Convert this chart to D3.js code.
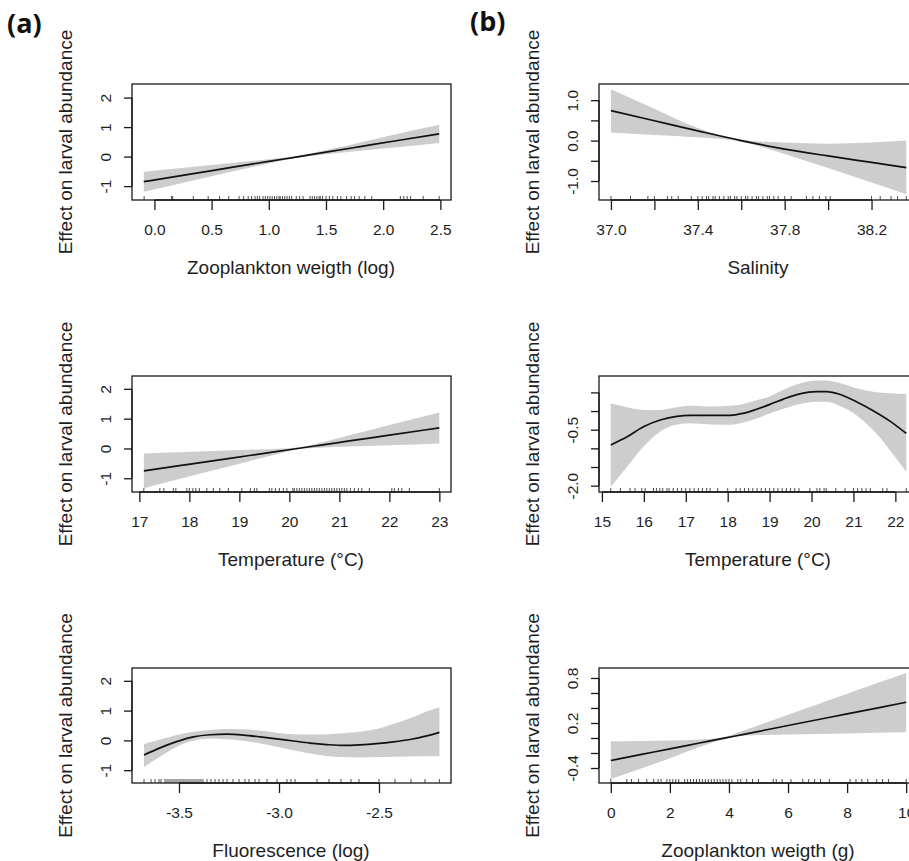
<!DOCTYPE html>
<html>
<head>
<meta charset="utf-8">
<script src="https://cdn.jsdelivr.net/npm/d3@7"></script>
<style>
  html, body { margin: 0; padding: 0; background: #fff; }
  svg { display: block; }
</style>
</head>
<body>
<div id="chart"></div>
<script>
// ---------------- DATA ----------------
const yTitle = "Effect on larval abundance";

// (a) top: Zooplankton weigth (log)
const a1X     = [-0.093, 0.3, 0.7, 1.0, 1.25, 1.5, 1.8, 2.1, 2.49];
const a1Fit   = [-0.85, -0.60, -0.35, -0.16, -0.01, 0.15, 0.34, 0.53, 0.77];
const a1Upper = [-0.51, -0.36, -0.21, -0.09, 0.02, 0.22, 0.48, 0.75, 1.08];
const a1Lower = [-1.19, -0.84, -0.49, -0.23, -0.04, 0.08, 0.20, 0.31, 0.46];
const a1Rug   = [-0.09, 0.15, 0.16, 0.34, 0.47, 0.57, 0.65, 0.74, 0.78, 0.82, 0.85, 0.88, 0.9, 0.92, 0.95, 0.97, 0.99, 1.01, 1.03, 1.05, 1.07, 1.09, 1.1, 1.12, 1.14, 1.16, 1.18, 1.2, 1.24, 1.27, 1.3, 1.36, 1.38, 1.4, 1.42, 1.44, 1.45, 1.47, 1.5, 1.53, 1.56, 1.6, 1.63, 1.68, 1.72, 1.75, 1.79, 1.84, 1.9, 2.15, 2.18, 2.21, 2.24, 2.35, 2.49];
const a1XTicks = [0, 0.5, 1.0, 1.5, 2.0, 2.5];
const a1XLabels = ["0.0", "0.5", "1.0", "1.5", "2.0", "2.5"];
const a1YTicks = [-1, 0, 1, 2];
const a1YLabels = ["-1", "0", "1", "2"];

// (a) middle: Temperature
const a2X     = [17.09, 17.8, 18.5, 19.2, 19.8, 20.2, 20.6, 21.2, 22.0, 23.0];
const a2Fit   = [-0.75, -0.577, -0.406, -0.236, -0.09, 0.008, 0.106, 0.252, 0.447, 0.69];
const a2Upper = [-0.165, -0.127, -0.086, -0.046, -0.01, 0.038, 0.186, 0.442, 0.787, 1.21];
const a2Lower = [-1.335, -1.027, -0.726, -0.426, -0.17, -0.022, 0.026, 0.062, 0.107, 0.17];
const a2Rug   = [17.09, 17.41, 17.49, 17.68, 17.73, 17.95, 18.0, 18.07, 18.13, 18.2, 18.35, 18.48, 18.61, 18.78, 19.05, 19.22, 19.3, 19.35, 19.6, 19.65, 19.72, 19.8, 19.88, 19.95, 20.07, 20.1, 20.15, 20.2, 20.25, 20.3, 20.35, 20.4, 20.45, 20.5, 20.55, 20.6, 20.65, 20.7, 20.75, 20.8, 20.85, 20.9, 20.95, 21.0, 21.05, 21.1, 21.15, 21.22, 21.3, 21.38, 21.45, 21.6, 22.05, 22.1, 22.18, 22.25, 22.4, 23.0];
const a2XTicks = [17, 18, 19, 20, 21, 22, 23];
const a2XLabels = ["17", "18", "19", "20", "21", "22", "23"];
const a2YTicks = [-1, 0, 1, 2];
const a2YLabels = ["-1", "0", "1", "2"];

// (a) bottom: Fluorescence (log)
const a3X     = [-3.675, -3.595, -3.512, -3.428, -3.345, -3.262, -3.178, -3.095, -3.012, -2.928, -2.845, -2.762, -2.678, -2.595, -2.512, -2.428, -2.345, -2.262, -2.198];
const a3Fit   = [-0.49, -0.25, -0.04, 0.12, 0.19, 0.21, 0.18, 0.12, 0.05, -0.02, -0.09, -0.14, -0.17, -0.15, -0.11, -0.05, 0.03, 0.15, 0.27];
const a3Upper = [-0.12, 0.03, 0.18, 0.29, 0.35, 0.38, 0.37, 0.33, 0.26, 0.21, 0.20, 0.21, 0.24, 0.29, 0.38, 0.55, 0.74, 0.97, 1.11];
const a3Lower = [-0.89, -0.55, -0.21, -0.01, 0.06, 0.04, -0.01, -0.10, -0.21, -0.33, -0.44, -0.52, -0.56, -0.57, -0.56, -0.55, -0.54, -0.53, -0.53];
const a3Rug   = [-3.675, -3.64, -3.62, -3.6, -3.59, -3.57, -3.56, -3.55, -3.54, -3.53, -3.52, -3.51, -3.5, -3.49, -3.48, -3.47, -3.46, -3.45, -3.44, -3.43, -3.42, -3.41, -3.4, -3.39, -3.38, -3.36, -3.34, -3.32, -3.3, -3.28, -3.26, -3.23, -3.2, -3.17, -3.15, -3.12, -3.1, -3.06, -3.01, -2.96, -2.94, -2.92, -2.81, -2.75, -2.69, -2.64, -2.6, -2.5, -2.42, -2.34, -2.27, -2.198];
const a3XTicks = [-3.5, -3.0, -2.5];
const a3XLabels = ["-3.5", "-3.0", "-2.5"];
const a3YTicks = [-1, 0, 1, 2];
const a3YLabels = ["-1", "0", "1", "2"];

// (b) top: Salinity
const b1X     = [37.0, 37.2, 37.4, 37.6, 37.8, 38.0, 38.2, 38.36];
const b1Fit   = [0.74, 0.49, 0.24, 0.0, -0.21, -0.38, -0.54, -0.67];
const b1Upper = [1.27, 0.79, 0.31, 0.02, -0.05, -0.08, -0.05, 0.0];
const b1Lower = [0.2, 0.14, 0.08, -0.03, -0.33, -0.68, -1.04, -1.33];
const b1Rug   = [37.0, 37.09, 37.17, 37.2, 37.26, 37.28, 37.31, 37.37, 37.4, 37.42, 37.44, 37.45, 37.47, 37.48, 37.5, 37.52, 37.54, 37.55, 37.57, 37.58, 37.6, 37.62, 37.63, 37.65, 37.67, 37.68, 37.7, 37.72, 37.73, 37.75, 37.77, 37.8, 37.83, 37.9, 37.93, 37.96, 37.99, 38.01, 38.2, 38.24, 38.29, 38.32, 38.36];
const b1XTicks = [37.0, 37.2, 37.4, 37.6, 37.8, 38.0, 38.2];
const b1XLabels = ["37.0", "", "37.4", "", "37.8", "", "38.2"];
const b1YTicks = [-1.0, -0.5, 0.0, 0.5, 1.0];
const b1YLabels = ["-1.0", "", "0.0", "", "1.0"];

// (b) middle: Temperature
const b2X     = [15.21, 15.6, 15.99, 16.39, 16.79, 17.1, 17.58, 18.06, 18.37, 18.69, 19.01, 19.33, 19.72, 20.12, 20.36, 20.67, 21.07, 21.47, 21.87, 22.26];
const b2Fit   = [-0.91, -0.69, -0.42, -0.24, -0.14, -0.115, -0.115, -0.115, -0.06, 0.05, 0.18, 0.32, 0.46, 0.52, 0.52, 0.45, 0.25, 0.01, -0.27, -0.6];
const b2Upper = [0.21, 0.1, 0.03, 0.03, 0.1, 0.14, 0.12, 0.14, 0.19, 0.29, 0.4, 0.57, 0.74, 0.82, 0.82, 0.75, 0.61, 0.52, 0.48, 0.46];
const b2Lower = [-2.03, -1.49, -0.96, -0.55, -0.36, -0.33, -0.36, -0.37, -0.31, -0.2, -0.06, 0.06, 0.19, 0.25, 0.25, 0.14, -0.11, -0.51, -1.05, -1.63];
const b2Rug   = [15.21, 15.44, 15.67, 15.79, 15.95, 16.03, 16.23, 16.3, 16.38, 16.45, 16.55, 16.6, 16.7, 16.8, 16.9, 17.0, 17.1, 17.2, 17.3, 17.4, 17.5, 17.58, 17.76, 18.0, 18.2, 18.3, 18.4, 18.5, 18.6, 18.7, 18.8, 18.9, 19.0, 19.1, 19.2, 19.3, 19.4, 19.5, 19.6, 19.7, 19.96, 20.13, 20.2, 20.3, 20.35, 20.58, 20.8, 21.0, 21.1, 21.2, 21.3, 21.4, 21.7, 21.8, 22.26];
const b2XTicks = [15, 16, 17, 18, 19, 20, 21, 22];
const b2XLabels = ["15", "16", "17", "18", "19", "20", "21", "22"];
const b2YTicks = [-2.0, -1.5, -1.0, -0.5, 0.0, 0.5];
const b2YLabels = ["-2.0", "", "", "-0.5", "", ""];

// (b) bottom: Zooplankton weigth (g)
const b3X     = [0, 1, 2, 3, 3.8, 4.5, 6, 8, 10];
const b3Fit   = [-0.3, -0.222, -0.145, -0.067, -0.005, 0.049, 0.166, 0.321, 0.476];
const b3Upper = [-0.044, -0.04, -0.035, -0.02, 0.01, 0.1, 0.31, 0.59, 0.867];
const b3Lower = [-0.547, -0.41, -0.27, -0.12, -0.02, 0.03, 0.045, 0.06, 0.076];
const b3Rug   = [0, 0.54, 0.7, 0.94, 1.22, 1.45, 1.6, 1.7, 1.9, 2.0, 2.1, 2.2, 2.3, 2.5, 2.6, 2.7, 2.8, 2.9, 3.0, 3.1, 3.2, 3.3, 3.4, 3.5, 3.6, 3.7, 3.8, 3.9, 4.0, 4.1, 4.3, 4.4, 4.6, 4.8, 5.0, 5.5, 5.6, 5.8, 6.1, 6.5, 6.7, 6.9, 7.1, 7.4, 8.1, 8.3, 8.5, 8.7, 9.0, 9.2, 9.4, 10.0];
const b3XTicks = [0, 2, 4, 6, 8, 10];
const b3XLabels = ["0", "2", "4", "6", "8", "10"];
const b3YTicks = [-0.4, -0.2, 0.0, 0.2, 0.4, 0.6, 0.8];
const b3YLabels = ["-0.4", "", "", "0.2", "", "", "0.8"];

const xTitles = ["Zooplankton weigth (log)", "Temperature (°C)", "Fluorescence (log)",
                 "Salinity", "Temperature (°C)", "Zooplankton weigth (g)"];
const panelLetters = ["(a)", "(b)"];

// ---------------- LAYOUT ----------------
const W = 909, H = 861;
const colLeft = [132, 599];
const rowTop = [84, 376, 668];
const rowH = [116, 116, 115];
const boxW = 319;

const panels = [
  {col:0,row:0,x:a1X,fit:a1Fit,up:a1Upper,lo:a1Lower,rug:a1Rug,xd:[-0.196,2.593],yd:[-1.47,2.46],xt:a1XTicks,xl:a1XLabels,yt:a1YTicks,yl:a1YLabels,title:xTitles[0]},
  {col:0,row:1,x:a2X,fit:a2Fit,up:a2Upper,lo:a2Lower,rug:a2Rug,xd:[16.853,23.233],yd:[-1.46,2.43],xt:a2XTicks,xl:a2XLabels,yt:a2YTicks,yl:a2YLabels,title:xTitles[1]},
  {col:0,row:2,x:a3X,fit:a3Fit,up:a3Upper,lo:a3Lower,rug:a3Rug,xd:[-3.735,-2.14],yd:[-1.43,2.43],xt:a3XTicks,xl:a3XLabels,yt:a3YTicks,yl:a3YLabels,title:xTitles[2]},
  {col:1,row:0,x:b1X,fit:b1Fit,up:b1Upper,lo:b1Lower,rug:b1Rug,xd:[36.945,38.414],yd:[-1.47,1.40],xt:b1XTicks,xl:b1XLabels,yt:b1YTicks,yl:b1YLabels,title:xTitles[3]},
  {col:1,row:1,x:b2X,fit:b2Fit,up:b2Upper,lo:b2Lower,rug:b2Rug,xd:[14.93,22.54],yd:[-2.17,0.94],xt:b2XTicks,xl:b2XLabels,yt:b2YTicks,yl:b2YLabels,title:xTitles[4]},
  {col:1,row:2,x:b3X,fit:b3Fit,up:b3Upper,lo:b3Lower,rug:b3Rug,xd:[-0.4,10.4],yd:[-0.6,0.933],xt:b3XTicks,xl:b3XLabels,yt:b3YTicks,yl:b3YLabels,title:xTitles[5]}
];

const svg = d3.select("#chart").append("svg")
  .attr("width", W).attr("height", H)
  .attr("viewBox", `0 0 ${W} ${H}`)
  .style("font-family", "'Liberation Sans', Arial, sans-serif");

svg.append("rect").attr("width", W).attr("height", H).attr("fill", "#fff");

const textCol = "#1e1e1e";

panels.forEach(p => {
  const left = colLeft[p.col], top = rowTop[p.row], h = rowH[p.row];
  const xs = d3.scaleLinear().domain(p.xd).range([left, left + boxW]);
  const ys = d3.scaleLinear().domain(p.yd).range([top + h, top]);
  const g = svg.append("g");
  const pts = p.x.map((v, i) => ({x: v, f: p.fit[i], u: p.up[i], l: p.lo[i]}));

  // confidence band
  g.append("path")
    .datum(pts)
    .attr("fill", "#cdcdcd")
    .attr("stroke", "none")
    .attr("d", d3.area().curve(d3.curveMonotoneX)
      .x(d => xs(d.x)).y0(d => ys(d.l)).y1(d => ys(d.u)));

  // fitted line
  g.append("path")
    .datum(pts)
    .attr("fill", "none")
    .attr("stroke", "#111")
    .attr("stroke-width", 1.7)
    .attr("d", d3.line().curve(d3.curveMonotoneX)
      .x(d => xs(d.x)).y(d => ys(d.f)));

  // rug
  g.selectAll(".rug").data(p.rug).enter().append("line")
    .attr("x1", d => xs(d)).attr("x2", d => xs(d))
    .attr("y1", top + h).attr("y2", top + h - 4)
    .attr("stroke", "#222").attr("stroke-width", 0.8);

  // box
  g.append("rect")
    .attr("x", left).attr("y", top).attr("width", boxW).attr("height", h)
    .attr("fill", "none").attr("stroke", "#1a1a1a").attr("stroke-width", 1.3);

  // x axis
  const xAxis = d3.axisBottom(xs).tickValues(p.xt).tickSize(10).tickSizeOuter(0)
    .tickFormat((d, i) => p.xl[i]);
  const xg = g.append("g").attr("transform", `translate(0,${top + h})`).call(xAxis);
  xg.select(".domain").attr("stroke", "#1a1a1a").attr("stroke-width", 1.3)
    .attr("d", `M${xs(p.xt[0])},0H${xs(p.xt[p.xt.length - 1])}`);
  xg.selectAll(".tick line").attr("stroke", "#1a1a1a").attr("stroke-width", 1.3);
  xg.selectAll(".tick text")
    .attr("y", 30).attr("dy", "0.35em")
    .attr("font-size", "15.5px").attr("fill", textCol)
    .attr("font-family", "'Liberation Sans', Arial, sans-serif");

  // y axis
  const yAxis = d3.axisLeft(ys).tickValues(p.yt).tickSize(8).tickSizeOuter(0)
    .tickFormat((d, i) => p.yl[i]);
  const yg = g.append("g").attr("transform", `translate(${left},0)`).call(yAxis);
  yg.select(".domain").attr("stroke", "#1a1a1a").attr("stroke-width", 1.3)
    .attr("d", `M0,${ys(p.yt[0])}V${ys(p.yt[p.yt.length - 1])}`);
  yg.selectAll(".tick line").attr("stroke", "#1a1a1a").attr("stroke-width", 1.3);
  yg.selectAll(".tick text")
    .attr("x", null).attr("dy", null)
    .attr("transform", "translate(-27,0) rotate(-90)")
    .attr("text-anchor", "middle")
    .attr("dominant-baseline", "central")
    .attr("font-size", "15.5px").attr("fill", textCol)
    .attr("font-family", "'Liberation Sans', Arial, sans-serif");

  // x title
  g.append("text")
    .attr("x", left + boxW / 2 - 0.5).attr("y", top + h + 67)
    .attr("text-anchor", "middle").attr("dominant-baseline", "central")
    .attr("font-size", "19px").attr("fill", textCol)
    .text(p.title);

  // y title
  g.append("text")
    .attr("transform", `translate(${left - 67},${top + h / 2}) rotate(-90)`)
    .attr("text-anchor", "middle").attr("dominant-baseline", "central")
    .attr("font-size", "19px").attr("fill", textCol)
    .text(yTitle);
});

// panel letters
svg.append("text").attr("x", 7).attr("y", 33)
  .attr("font-family", "'Open Sans', 'Noto Sans', sans-serif")
  .attr("font-weight", 700).attr("font-size", "27px").attr("fill", "#111")
  .text(panelLetters[0]);
svg.append("text").attr("x", 470).attr("y", 31)
  .attr("font-family", "'Open Sans', 'Noto Sans', sans-serif")
  .attr("font-weight", 700).attr("font-size", "27px").attr("fill", "#111")
  .text(panelLetters[1]);
</script>
</body>
</html>
